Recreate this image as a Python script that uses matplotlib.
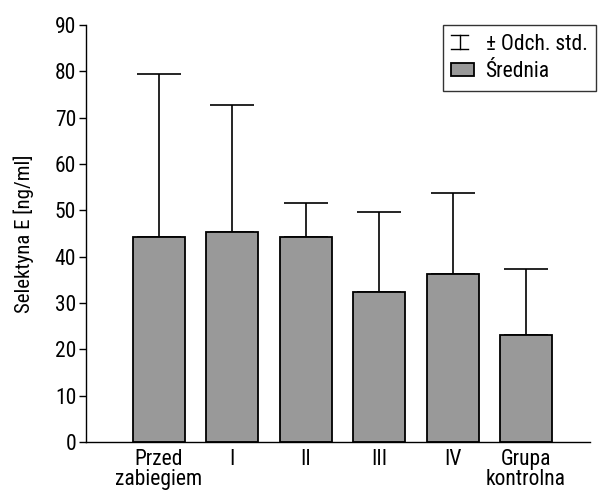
import matplotlib
matplotlib.use("Agg")
import matplotlib.pyplot as plt
from matplotlib.legend_handler import HandlerBase
from matplotlib.lines import Line2D
from matplotlib.patches import Patch
import numpy as np

# Dane
grupy = ["Przed\nzabiegiem", "I", "II", "III", "IV", "Grupa\nkontrolna"]
srednie = [44.3, 45.4, 44.3, 32.3, 36.2, 23.1]
odch_std = [35.1, 27.3, 7.2, 17.4, 17.6, 14.2]

plt.rcParams["font.family"] = ["Roboto Condensed", "DejaVu Sans"]


class HandlerOdch(HandlerBase):
    # symbol odchylenia: kreska - pion - kreska
    def create_artists(self, legend, orig_handle, xdescent, ydescent,
                       width, height, fontsize, trans):
        x0, x1 = -xdescent, -xdescent + 0.75 * width
        y0, y1 = -ydescent + 0.0 * height, -ydescent + 1.0 * height
        xm = (x0 + x1) / 2
        kw = dict(color="black", lw=1.0, transform=trans)
        return [Line2D([x0, x1], [y1, y1], **kw),
                Line2D([xm, xm], [y0, y1], **kw),
                Line2D([x0, x1], [y0, y0], **kw)]


fig = plt.figure(figsize=(5.98, 4.90), dpi=100)
ax = fig.add_axes([86 / 598, 1 - 442 / 490, 504 / 598, 417 / 490])

x = np.arange(len(grupy))
ax.bar(x, srednie, width=0.71, color="#999999", edgecolor="black",
       linewidth=1.3, zorder=2)
ax.errorbar(x, srednie, yerr=[np.zeros(len(x)), odch_std], fmt="none",
            ecolor="black", elinewidth=1.2, capsize=16, capthick=1.2,
            zorder=1)

ax.set_xlim(-0.99, 5.87)
ax.set_ylim(0, 90)
ax.set_yticks(range(0, 91, 10))
ax.set_xticks(x)
ax.set_xticklabels(grupy, fontsize=15.5, linespacing=0.92)
ax.tick_params(axis="x", length=0, pad=5)
ax.tick_params(axis="y", labelsize=15.5, length=5, width=1, pad=2)
ax.set_ylabel("Selektyna E [ng/ml]", fontsize=15, labelpad=15)

ax.spines["top"].set_visible(False)
ax.spines["right"].set_visible(False)
ax.spines["left"].set_linewidth(1)
ax.spines["bottom"].set_linewidth(1)

uchwyt_odch = object()
uchwyt_sr = Patch(facecolor="#999999", edgecolor="black", linewidth=1.3)
leg = ax.legend([uchwyt_odch, uchwyt_sr], ["± Odch. std.", "Średnia"],
                handler_map={object: HandlerOdch()},
                loc="upper right", fontsize=15.5,
                frameon=True, fancybox=False, edgecolor="black",
                borderaxespad=0, bbox_to_anchor=(1.012, 1.0),
                handlelength=1.05, handleheight=0.6, handletextpad=0.55,
                labelspacing=0.3, borderpad=0.4)
leg.get_frame().set_linewidth(1)

fig.savefig("out.png", dpi=100)
